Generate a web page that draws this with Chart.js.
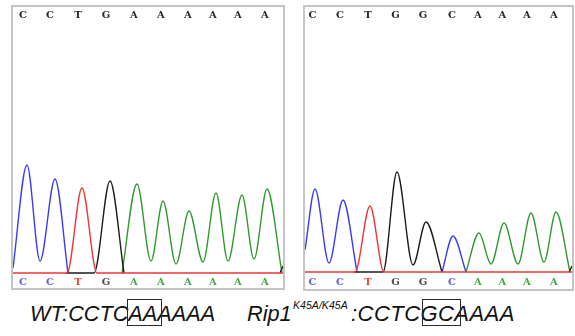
<!DOCTYPE html>
<html>
<head>
<meta charset="utf-8">
<script src="https://cdn.jsdelivr.net/npm/chart.js@4/dist/chart.umd.min.js"></script>
<style>
  html, body { margin: 0; padding: 0; background: #fff; }
  body { width: 575px; height: 336px; position: relative; overflow: hidden; }
  .panel { position: absolute; border: 2px solid #c4c4c4; background: #fff; }
  .panel canvas { display: block; }
  .cap { position: absolute; font-family: "Liberation Sans", Arial, sans-serif; font-style: italic;
         font-size: 21.7px; color: #111; white-space: nowrap; line-height: 1; }
  .sup { position: absolute; font-family: "Liberation Sans", Arial, sans-serif; font-style: italic;
         font-size: 10.6px; color: #111; white-space: nowrap; line-height: 1; }
  .box { position: absolute; border: 1.6px solid #2a2a2a; box-sizing: border-box; }
</style>
</head>
<body>
<div class="panel" style="left:11px; top:5px; width:270px; height:281px;"><canvas id="left" width="270" height="281"></canvas></div>
<div class="panel" style="left:303px; top:5px; width:267px; height:282px;"><canvas id="right" width="267" height="282"></canvas></div>

<div class="cap" style="left:30px; top:303px;">WT:CCTCAAAAAA</div>
<div class="box" style="left:127px; top:299px; width:35px; height:27px;"></div>
<div class="cap" style="left:247px; top:303px;">Rip1</div>
<div class="sup" style="left:293px; top:300px;">K45A/K45A</div>
<div class="cap" style="left:351px; top:303px; font-size:22px; letter-spacing:0.45px;">:CCTCGCAAAA</div>
<div class="box" style="left:422px; top:299px; width:39px; height:27px;"></div>

<script>
// ---- base calls (scan position of each call) ----
const leftBases = ['C','C','T','G','A','A','A','A','A','A'];
const leftCallScan = [40, 148, 260, 372, 484, 592, 700, 800, 900, 1008];
const rightBases = ['C','C','T','G','G','C','A','A','A','A'];
const rightCallScan = [30, 140, 252, 362, 472, 588, 692, 790, 888, 996];

// ---- traces: [scan, signal] (null = trace hidden under baseline) ----
const leftTraceC = [[0,50],[56,1080],[108,120],[168,940],[220,0]];
const leftTraceT = [[0,0],[216,0],[276,850],[336,0],[1080,0]];
const leftTraceG = [[212,0],[324,0],[388,920],[444,0],[700,null],[1068,0],[1080,70]];
const leftTraceA = [[436,0],[496,890],[552,120],[600,720],[652,90],[704,620],[760,110],
                    [812,800],[860,120],[916,780],[964,140],[1016,840],[1076,0]];

const rightTraceC = [[0,220],[40,830],[96,90],[152,720],[208,0],[400,null],[548,0],[592,360],[644,0]];
const rightTraceT = [[0,0],[200,0],[260,660],[316,0],[1068,0]];
const rightTraceG = [[196,0],[312,0],[368,1000],[432,70],[484,500],[548,0],[800,null],[1056,0],[1068,60]];
const rightTraceA = [[644,0],[696,390],[744,80],[796,490],[852,80],[904,590],[956,100],
                     [1004,600],[1060,0]];

const leftScanMax = 1080, rightScanMax = 1068;
const signalMin = -40;
const leftSignalMax = 2490, rightSignalMax = 2480;

const traceColor = { A: '#2f9a2f', C: '#3a3af4', G: '#1c1c1c', T: '#ee3434' };
const callColor  = { A: '#45a545', C: '#5c5cf2', G: '#4a4a4a', T: '#f04a2a' };
const drawOrder  = { T: 0, G: 1, C: 2, A: 3 };

function makePanel(id, bases, callScan, traces, scanMax, signalMax, bottomH, bottomPad) {
  const datasets = Object.keys(traces).map(b => ({
    label: b,
    data: traces[b].map(p => ({ x: p[0], y: p[1] })),
    borderColor: traceColor[b],
    borderWidth: 1.4,
    pointRadius: 0,
    fill: false,
    spanGaps: false,
    cubicInterpolationMode: 'monotone',
    order: drawOrder[b],
    xAxisID: 'x', yAxisID: 'y'
  }));
  const setTicks = scale => { scale.ticks = callScan.map(v => ({ value: v })); };
  const letterFam = '"DejaVu Serif", "Liberation Serif", serif';
  new Chart(document.getElementById(id), {
    type: 'line',
    data: { datasets },
    options: {
      responsive: false, animation: false, devicePixelRatio: 1,
      layout: { padding: 0 },
      plugins: { legend: { display: false }, tooltip: { enabled: false } },
      scales: {
        x: {
          type: 'linear', position: 'bottom', min: 0, max: scanMax,
          afterBuildTicks: setTicks,
          afterFit: s => { s.height = bottomH; },
          grid: { display: false, drawTicks: false }, border: { display: false },
          ticks: { autoSkip: false, maxRotation: 0, padding: bottomPad,
                   font: { family: letterFam, size: 10, weight: 'bold', lineHeight: 1 },
                   callback: (v, i) => bases[i],
                   color: ctx => callColor[bases[ctx.index]] }
        },
        xTop: {
          type: 'linear', position: 'top', min: 0, max: scanMax,
          afterBuildTicks: setTicks,
          afterFit: s => { s.height = 17; },
          grid: { display: false, drawTicks: false }, border: { display: false },
          ticks: { autoSkip: false, maxRotation: 0, padding: 3,
                   font: { family: letterFam, size: 10, weight: 'bold', lineHeight: 1.2 },
                   callback: (v, i) => bases[i], color: '#2e2820' }
        },
        y: { display: false, min: signalMin, max: signalMax }
      }
    }
  });
}

makePanel('left', leftBases, leftCallScan,
  { A: leftTraceA, C: leftTraceC, G: leftTraceG, T: leftTraceT }, leftScanMax, leftSignalMax, 11, 0);
makePanel('right', rightBases, rightCallScan,
  { A: rightTraceA, C: rightTraceC, G: rightTraceG, T: rightTraceT }, rightScanMax, rightSignalMax, 13, 1);
</script>
</body>
</html>
